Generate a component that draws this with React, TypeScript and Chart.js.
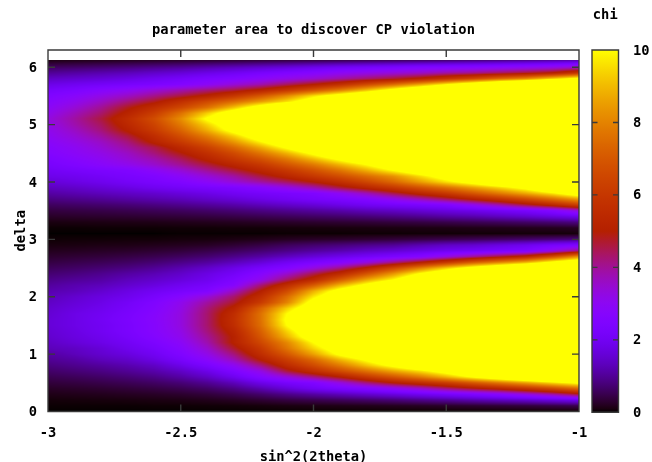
import React, { useEffect, useRef } from "react";
import { Chart, registerables } from "chart.js";

Chart.register(...registerables);

const thetaValues = [-3, -2.9, -2.8, -2.7, -2.6, -2.5, -2.4, -2.3, -2.2, -2.1, -2, -1.9, -1.8, -1.7, -1.6, -1.5, -1.4, -1.3, -1.2, -1.1, -1];
const deltaValues = [0, 0.1, 0.2, 0.3, 0.4, 0.5, 0.6, 0.7, 0.8, 0.9, 1, 1.1, 1.2, 1.3, 1.4, 1.5, 1.6, 1.7, 1.8, 1.9, 2, 2.1, 2.2, 2.3, 2.4, 2.5, 2.6, 2.7, 2.8, 2.9, 3, 3.1, 3.2, 3.3, 3.4, 3.5, 3.6, 3.7, 3.8, 3.9, 4, 4.1, 4.2, 4.3, 4.4, 4.5, 4.6, 4.7, 4.8, 4.9, 5, 5.1, 5.2, 5.3, 5.4, 5.5, 5.6, 5.7, 5.8, 5.9, 6, 6.1, 6.13];
// chi per delta row (ascending) and theta column; values above 10 saturate on the colour range
const chiRows = [
[0,0,0,0,0,0,0,0,0,0,0,0,0,0,0,0,0,0,0,0,0],
[.02,.02,.02,.02,.03,.03,.04,.05,.07,.10,.12,.14,.16,.19,.22,.26,.3,.34,.38,.44,.5],
[.06,.07,.08,.09,.11,.13,.17,.23,.32,.42,.5,.58,.67,.77,.9,1.03,1.2,1.35,1.5,1.7,1.9],
[.14,.16,.18,.21,.24,.29,.37,.5,.68,.9,1.1,1.3,1.5,1.7,1.95,2.2,2.45,2.8,3.3,3.9,4.7],
[.24,.27,.31,.36,.42,.51,.64,.86,1.2,1.6,2.0,2.3,2.6,3.0,3.5,4.2,4.8,5.3,5.9,6.6,7.5],
[.37,.41,.47,.54,.63,.76,.97,1.3,1.8,2.2,2.5,3.3,4.2,5.0,5.6,6.2,7.0,7.8,8.6,9.5,10.3],
[.51,.57,.65,.75,.88,1.1,1.4,1.9,2.6,3.3,4.1,5.0,6.0,6.9,7.8,8.9,10.1,11.2,12.3,13.5,14.8],
[.66,.75,.85,.98,1.15,1.4,1.8,2.4,3.2,4.6,5.6,6.6,7.6,8.6,9.5,10.6,11.9,13.3,14.8,16.4,18],
[.82,.93,1.05,1.2,1.4,1.8,2.3,3.0,4.1,5.5,6.6,7.8,9.1,10.3,11.6,13,14.4,15.9,17.5,19.5,21.6],
[.98,1.1,1.3,1.45,1.75,2.2,2.8,3.7,5.0,6.2,7.4,8.9,10.2,11.6,13.2,14.8,16.6,18.7,20.9,23.3,25.8],
[1.1,1.3,1.5,1.7,2.0,2.5,3.2,4.2,5.6,7.0,8.6,10.3,11.6,13,14.9,17,19.1,21.6,24.1,26.9,29.7],
[1.3,1.4,1.6,1.9,2.2,2.7,3.5,4.7,6.0,7.7,9.4,10.9,12.5,14.3,16.7,19.1,21.4,24.2,27,30.2,33.4],
[1.4,1.6,1.8,2.05,2.4,2.9,3.8,5.1,6.5,8.1,10,11.5,13.2,15,18,20.8,23.5,26.5,29.5,33,36.5],
[1.5,1.7,1.9,2.2,2.6,3.1,4.0,5.1,6.9,8.9,10.9,12.7,14.7,16.7,19.5,22.3,25.1,28.3,31.6,35.3,39],
[1.55,1.75,2.0,2.3,2.7,3.2,4.2,5.3,7.2,9.4,11.3,13.2,15.3,17.5,20.4,23.3,26.2,29.6,33,36.9,40.8],
[1.6,1.8,2.0,2.3,2.7,3.3,4.3,5.6,7.5,10,11.9,13.7,15.7,17.9,20.9,23.9,26.9,30.3,33.8,37.8,41.8],
[1.6,1.8,2.05,2.35,2.75,3.3,4.3,5.7,7.6,10.2,12,13.8,15.8,18,21,24,27,30.5,34,38,42],
[1.55,1.8,2.0,2.3,2.7,3.3,4.3,5.6,7.6,10,11.9,13.6,15.5,17.7,20.7,23.6,26.6,30,33.4,37.4,41.3],
[1.5,1.7,1.9,2.2,2.6,3.2,4.2,5.2,7.2,9.3,11.2,13,15,17.1,19.9,22.8,25.6,28.9,32.2,36,39.8],
[1.4,1.6,1.8,2.1,2.5,3.1,3.9,4.7,6.1,8,10.6,12.4,14.1,16.1,18.8,21.5,24.2,27.3,30.4,34,37.6],
[1.3,1.5,1.7,1.9,2.25,2.7,3.4,4.3,5.6,7.5,9.7,11.4,13.1,14.9,17.4,19.8,22.3,25.2,28.1,31.4,34.7],
[1.2,1.3,1.5,1.75,2.0,2.25,2.5,3.6,5.0,6.6,8.8,10.6,11.9,13.4,15.6,17.9,20.1,22.7,25.3,28.3,31.3],
[1.05,1.2,1.3,1.5,1.7,1.95,2.2,2.7,4.2,5.6,7.1,8.9,10.4,11.9,13.7,15.7,17.7,19.9,22.2,24.8,27.5],
[.89,1.0,1.1,1.3,1.45,1.65,1.9,2.4,3.1,4.3,5.4,7.0,8.6,9.9,11.7,13.3,15,17,18.9,21.1,23.4],
[.73,.82,.94,1.1,1.25,1.45,1.75,2.1,2.7,3.5,4.5,5.5,6.9,8.4,10.1,11.5,12.9,14.3,15.8,17.4,19.2],
[.57,.64,.73,.84,.99,1.2,1.45,1.8,2.2,2.6,3.3,4.1,5.2,6.5,7.9,9.3,10.6,11.8,13,14.2,15.5],
[.42,.48,.54,.62,.73,.88,1.05,1.3,1.6,2.0,2.35,2.7,3.3,4.1,5,6,7.1,8,8.9,10.3,11.5],
[.29,.33,.37,.43,.5,.6,.72,.9,1.1,1.35,1.6,1.85,2.1,2.35,2.65,3.3,4,4.7,5.4,6.7,8.3],
[.18,.2,.23,.26,.31,.37,.46,.58,.72,.88,1.05,1.2,1.4,1.55,1.75,1.95,2.1,2.3,2.5,3.2,4.2],
[.09,.10,.12,.13,.16,.19,.23,.32,.43,.58,.69,.79,.91,1.0,1.2,1.4,1.5,1.7,1.9,2.2,2.4],
[.03,.04,.04,.05,.05,.07,.08,.11,.15,.20,.24,.27,.31,.36,.42,.48,.54,.61,.68,.76,.84],
[0,0,0,0,0,.01,.01,.01,.01,.02,.02,.02,.03,.03,.04,.04,.05,.05,.06,.06,.07],
[.02,.02,.03,.03,.03,.04,.04,.05,.05,.06,.07,.08,.09,.1,.11,.12,.14,.15,.17,.19,.22],
[.1,.11,.12,.13,.14,.16,.18,.2,.23,.26,.29,.32,.35,.39,.43,.48,.54,.6,.67,.75,.85],
[.25,.27,.29,.31,.34,.37,.41,.46,.52,.58,.64,.7,.78,.87,.97,1.1,1.2,1.35,1.5,1.7,1.9],
[.4,.43,.46,.5,.55,.6,.67,.75,.85,.95,1.05,1.15,1.3,1.4,1.55,1.7,1.85,2.05,2.25,2.6,3.4],
[.6,.65,.7,.76,.84,.93,1.03,1.15,1.3,1.45,1.6,1.8,2.0,2.15,2.3,2.5,3.1,3.8,4.6,5.4,6.3],
[.85,.92,1.0,1.1,1.2,1.3,1.45,1.6,1.8,2.0,2.2,2.35,2.6,3.1,3.7,4.4,5.1,5.8,6.6,7.5,8.5],
[1.1,1.2,1.3,1.4,1.5,1.65,1.8,2.0,2.15,2.3,2.5,3.0,3.7,4.5,5.3,6.0,6.9,7.8,8.7,9.7,11],
[1.35,1.45,1.6,1.75,1.95,2.1,2.25,2.4,2.7,3.2,3.8,4.6,5.3,6.0,6.8,7.6,8.5,9.4,10.4,12,14],
[1.6,1.75,1.9,2.1,2.3,2.5,2.9,3.4,3.9,4.4,5.0,5.7,6.5,7.4,8.5,9.6,10.6,11.8,13,14.4,16],
[1.85,1.95,2.1,2.3,2.5,2.9,3.4,3.9,4.6,5.3,6.0,6.7,7.5,8.3,9.5,10.7,12,13.2,14.5,16,17.8],
[2.05,2.2,2.35,2.5,2.9,3.4,4.0,4.6,5.3,6.0,6.8,7.7,8.8,10,11.2,12.6,14,15.4,16.8,18.3,20],
[2.25,2.5,2.8,3.1,3.5,4.0,4.6,5.3,6.0,6.9,7.8,8.9,10,11.3,12.7,14.2,15.7,17.2,18.7,20.3,22],
[2.4,2.7,3.0,3.4,3.8,4.4,5.2,6.0,6.8,7.8,9,10.3,11.6,13,14.4,16,17.6,19.2,20.9,22.7,24.5],
[2.6,2.9,3.2,3.6,4.2,4.9,5.7,6.6,7.7,8.9,10.3,11.8,13.3,14.8,16.3,18,19.7,21.5,23.3,25.3,27],
[2.7,3.0,3.4,3.9,4.5,5.4,6.3,7.4,8.7,10.2,11.8,13.4,15,16.7,18.5,20.3,22.2,24.2,26.3,28.5,30],
[2.85,3.2,3.6,4.2,5.2,6.1,7.1,8.4,9.9,11.4,13,14.6,16.2,18,19.8,22,24,26,28.5,30.5,33],
[3.0,3.4,3.9,4.6,5.6,6.7,7.9,9.3,11,12.4,14,15.6,17.2,19,21,23.3,25.7,28.5,31,34,36.5],
[3.1,3.6,4.2,5.1,6.1,7.3,8.8,10.5,12,13.5,15,16.8,18.7,20.5,22.5,25,27.5,30.5,33.5,36.5,39],
[3.2,3.8,4.4,5.4,6.4,7.8,9.4,11,12.4,13.8,15.4,17.3,19.3,21.3,23.7,26,29,32,35,38,41],
[3.3,3.9,4.6,5.6,6.7,8.2,10.2,11.5,12.8,14.2,16,18,20,22,24.5,27,30,33,36,39,42],
[3.1,3.7,4.3,5.2,6.2,7.6,9.3,11,12.5,14,16,18,20,22,24,26.5,29,31.5,34,36.5,39],
[2.9,3.4,4.0,4.8,5.6,6.5,7.6,9.1,10.8,12.4,14,15.8,17.6,19.5,21.5,23.5,26,28.5,30.5,33,35],
[2.7,3.1,3.6,4.2,4.8,5.7,6.6,7.5,8.5,9.6,11,12.5,14,15.6,17.2,19,21,23,25,27.5,30],
[2.5,2.8,3.2,3.6,4.1,4.6,5.2,6.0,7.0,8.2,9.6,10.8,12,13.3,14.8,16.4,18,19.8,21.5,23.5,25.5],
[2.2,2.4,2.7,3.0,3.4,3.8,4.2,4.6,5.2,6.0,6.9,7.9,9.1,10.5,11.9,13.2,14.6,16,17.5,19.3,21],
[1.8,1.95,2.1,2.25,2.4,2.6,2.95,3.4,3.8,4.4,5.0,5.7,6.6,7.5,8.6,9.9,11.2,12.5,13.8,15.2,16.7],
[1.4,1.5,1.6,1.75,1.95,2.15,2.4,2.6,2.9,3.2,3.5,3.9,4.3,4.7,5.2,5.9,6.6,7.5,8.2,9.4,10.5],
[1.0,1.1,1.2,1.3,1.45,1.6,1.8,2.0,2.25,2.5,2.7,3.0,3.2,3.4,3.6,3.9,4.1,4.4,4.7,5.1,6.0],
[.6,.65,.72,.8,.9,1.0,1.15,1.3,1.45,1.6,1.8,2.0,2.15,2.3,2.5,2.6,2.7,2.85,3.0,3.2,3.5],
[.2,.23,.26,.3,.34,.38,.43,.48,.54,.6,.66,.73,.8,.87,.95,1.03,1.12,1.22,1.32,1.45,1.6],
[.12,.14,.16,.18,.2,.23,.26,.29,.32,.35,.38,.42,.46,.5,.55,.6,.66,.72,.8,.95,1.1],
];
const titleText = "parameter area to discover CP violation";
const xLabel = "sin^2(2theta)";
const yLabel = "delta";
const colorbarLabel = "chi";

const FONT = { family: "'DejaVu Sans Mono', monospace", size: 13.75, weight: "bold" as const, lineHeight: 1.2 };
const INK = "#3a3a3a";

// gnuplot's default pm3d palette (rgbformulae 7,5,15) over the range 0..10
function paletteRGB(v: number): [number, number, number] {
  const t = Math.max(0, Math.min(1, v / 10));
  const r = Math.sqrt(t);
  const g = t * t * t;
  const b = Math.max(0, Math.sin(2 * Math.PI * t));
  return [Math.round(r * 255), Math.round(g * 255), Math.round(b * 255)];
}

function bracket(list: number[], v: number): [number, number] {
  let i = 0;
  while (i < list.length - 2 && v > list[i + 1]) i++;
  const f = (v - list[i]) / (list[i + 1] - list[i]);
  return [i, Math.max(0, Math.min(1, f))];
}

// Paints the chi table through the chart's scales, shaded smoothly between table nodes like pm3d
const heatPlugin = {
  id: "heat",
  beforeDatasetsDraw(chart: any) {
    const { ctx, chartArea: a, scales } = chart;
    const l = Math.round(a.left), t = Math.round(a.top);
    const w = Math.round(a.right) - l, h = Math.round(a.bottom) - t;
    const off = document.createElement("canvas");
    off.width = w;
    off.height = h;
    const oc = off.getContext("2d")!;
    const img = oc.createImageData(w, h);
    const topDelta = deltaValues[deltaValues.length - 1];
    for (let py = 0; py < h; py++) {
      const d = scales.y.getValueForPixel(t + py + 0.5);
      if (d > topDelta) continue;
      const [ri, rf] = bracket(deltaValues, d);
      for (let px = 0; px < w; px++) {
        const x = scales.x.getValueForPixel(l + px + 0.5);
        const [ci, cf] = bracket(thetaValues, x);
        const lo = chiRows[ri][ci] * (1 - cf) + chiRows[ri][ci + 1] * cf;
        const hi = chiRows[ri + 1][ci] * (1 - cf) + chiRows[ri + 1][ci + 1] * cf;
        const [r, g, b] = paletteRGB(lo * (1 - rf) + hi * rf);
        const k = (py * w + px) * 4;
        img.data[k] = r;
        img.data[k + 1] = g;
        img.data[k + 2] = b;
        img.data[k + 3] = 255;
      }
    }
    oc.putImageData(img, 0, 0);
    ctx.drawImage(off, l, t);
  },
};

function strokeFrame(chart: any, xTicks: boolean, len: number) {
  const { ctx, chartArea: a, scales } = chart;
  ctx.save();
  ctx.strokeStyle = INK;
  ctx.lineWidth = 1.4;
  ctx.beginPath();
  ctx.rect(a.left, a.top, a.right - a.left, a.bottom - a.top);
  for (const tick of scales.y.ticks) {
    const y = scales.y.getPixelForValue(tick.value);
    ctx.moveTo(a.left, y);
    ctx.lineTo(a.left + len, y);
    ctx.moveTo(a.right, y);
    ctx.lineTo(a.right - len, y);
  }
  if (xTicks) {
    for (const tick of scales.x.ticks) {
      const x = scales.x.getPixelForValue(tick.value);
      ctx.moveTo(x, a.bottom);
      ctx.lineTo(x, a.bottom - len);
      ctx.moveTo(x, a.top);
      ctx.lineTo(x, a.top + len);
    }
  }
  ctx.stroke();
  ctx.restore();
}

const framePlugin = { id: "frame", afterDatasetsDraw: (c: any) => strokeFrame(c, true, 7) };
const barFramePlugin = { id: "barFrame", afterDatasetsDraw: (c: any) => strokeFrame(c, false, 5.5) };

export default function App() {
  const mainRef = useRef<HTMLCanvasElement>(null);
  const barRef = useRef<HTMLCanvasElement>(null);

  useEffect(() => {
    const cells: { x: number; y: number; v: number }[] = [];
    deltaValues.forEach((d, r) => thetaValues.forEach((x, c) => cells.push({ x, y: d, v: chiRows[r][c] })));

    const main = new Chart(mainRef.current!, {
      type: "scatter",
      data: { datasets: [{ label: "chi", data: cells, pointRadius: 0, showLine: false }] },
      plugins: [heatPlugin, framePlugin],
      options: {
        responsive: false,
        animation: false,
        events: [],
        layout: { padding: { right: 73 } },
        plugins: {
          legend: { display: false },
          tooltip: { enabled: false },
          title: {
            display: true,
            text: titleText,
            color: "#000",
            font: FONT,
            fullSize: false,
            padding: { top: 22, bottom: 11.5 },
          },
        },
        scales: {
          x: {
            type: "linear",
            min: -3,
            max: -1,
            grid: { display: false, drawTicks: false },
            border: { display: false },
            ticks: { stepSize: 0.5, color: "#000", font: FONT, padding: 14, maxRotation: 0, callback: (v: any) => String(v) },
            title: { display: true, text: xLabel, color: "#000", font: FONT, padding: { top: 0, bottom: -4 } },
            afterFit: (s: any) => { s.height = 50.5; },
          },
          y: {
            type: "linear",
            min: 0,
            max: 6.3,
            grid: { display: false, drawTicks: false },
            border: { display: false },
            ticks: { stepSize: 1, color: "#000", font: FONT, padding: 11, includeBounds: false, labelOffset: 1 },
            title: { display: true, text: yLabel, color: "#000", font: FONT, padding: { top: 13.5, bottom: 0 } },
            afterFit: (s: any) => { s.width = 48; },
          },
        },
      } as any,
    });

    const bar = new Chart(barRef.current!, {
      type: "bar",
      data: {
        labels: [colorbarLabel],
        datasets: [{
          label: colorbarLabel,
          data: [[0, 10]] as any,
          barPercentage: 1,
          categoryPercentage: 1,
          backgroundColor: (c: any) => {
            const a = c.chart.chartArea;
            if (!a) return "#000";
            const g = c.chart.ctx.createLinearGradient(0, a.bottom, 0, a.top);
            for (let i = 0; i <= 100; i++) {
              const [r, gr, b] = paletteRGB(i / 10);
              g.addColorStop(i / 100, `rgb(${r},${gr},${b})`);
            }
            return g;
          },
        }],
      },
      plugins: [barFramePlugin],
      options: {
        responsive: false,
        animation: false,
        events: [],
        layout: { padding: { left: 12, bottom: 49.7 } },
        plugins: {
          legend: { display: false },
          tooltip: { enabled: false },
          title: {
            display: true,
            text: colorbarLabel,
            color: "#000",
            font: FONT,
            fullSize: false,
            padding: { top: 7, bottom: 26.5 },
          },
        },
        scales: {
          x: { display: false, offset: true },
          y: {
            position: "right",
            min: 0,
            max: 10,
            grid: { display: false, drawTicks: false },
            border: { display: false },
            ticks: { stepSize: 2, color: "#000", font: FONT, padding: 14.5, labelOffset: 1 },
            afterFit: (s: any) => { s.width = 33.5; },
          },
        },
      } as any,
    });

    return () => {
      main.destroy();
      bar.destroy();
    };
  }, []);

  return (
    <div style={{ position: "absolute", left: 0, top: 0, width: 652, height: 462, background: "#fff", overflow: "hidden" }}>
      <canvas ref={mainRef} width={652} height={462} style={{ position: "absolute", left: 0, top: 0, width: 652, height: 462 }} />
      <canvas ref={barRef} width={72} height={462} style={{ position: "absolute", left: 580, top: 0, width: 72, height: 462 }} />
    </div>
  );
}
